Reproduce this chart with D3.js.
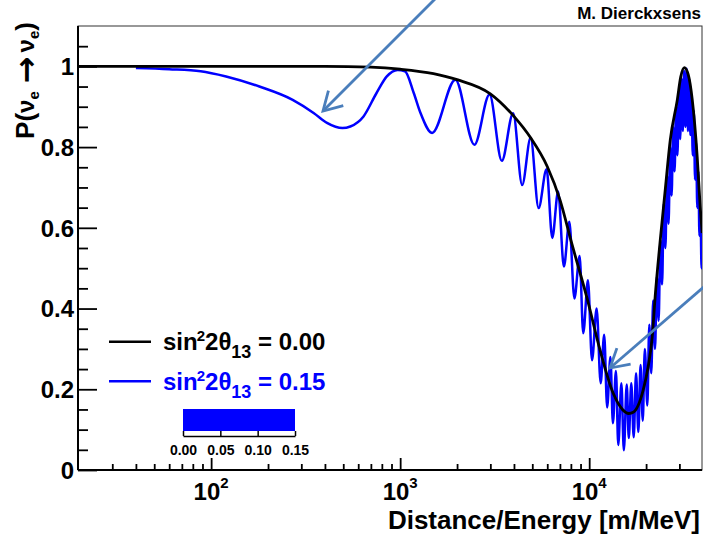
<!DOCTYPE html>
<html><head><meta charset="utf-8">
<script src="https://cdn.jsdelivr.net/npm/d3@7"></script>
<style>
body{margin:0;background:#fff}
svg{display:block}
text{font-family:"Liberation Sans",Arial,Helvetica,sans-serif}
</style>
</head><body>
<script>
// ---- data ----
// black: sin^2 2theta13 = 0.00
const blackLE = [20, 400, 700, 1000, 1500, 2000, 3000, 4000, 4900, 6000, 7000, 8100, 9750, 11400, 13400, 15000, 16200, 17100, 19300, 20500, 21550, 22340, 23770, 25250, 26850, 29250, 30500, 31850, 33400, 35100, 37270, 38660, 39600];
const blackP  = [1.000, 1.000, 0.998, 0.993, 0.982, 0.967, 0.932, 0.876, 0.823, 0.752, 0.670, 0.560, 0.425, 0.298, 0.190, 0.150, 0.140, 0.143, 0.198, 0.255, 0.330, 0.430, 0.570, 0.694, 0.818, 0.917, 0.974, 0.997, 0.980, 0.917, 0.776, 0.652, 0.587];
// blue: sin^2 2theta13 = 0.15
const blueLE = [40, 60, 88, 120, 180, 270, 350, 410, 495, 545, 640, 750, 850, 970, 1060, 1180, 1280, 1475,
  1960, 2470, 2970, 3450, 3960, 4420, 4900, 5400, 5950, 6380, 6850, 7350, 7850, 8350, 8900, 9300, 9850, 10350,
  10950, 11500, 12000, 12450, 12950, 13350, 13850, 14250, 14800, 15250, 15800, 16200, 16700, 17200, 17700, 18200,
  18700, 19200, 19700, 20300, 20800, 21300, 21800, 22300, 22800, 23300, 23800, 24300, 24800, 25300, 25800, 26300,
  26800, 27300, 27800, 28300, 28800, 29300, 29800, 30300, 30800, 31300, 31800, 32300, 32800, 33300, 33800, 34300,
  34800, 35300, 35800, 36300, 36800, 37300, 37800, 38300, 38800, 39300, 39600];
const blueP = [0.996, 0.993, 0.988, 0.975, 0.950, 0.917, 0.884, 0.860, 0.847, 0.851, 0.876, 0.934, 0.975, 0.991, 0.988, 0.934, 0.885, 0.835,
  0.967, 0.806, 0.930, 0.766, 0.884, 0.706, 0.823, 0.649, 0.745, 0.575, 0.690, 0.504, 0.615, 0.425, 0.530, 0.339, 0.470, 0.272,
  0.400, 0.215, 0.335, 0.155, 0.280, 0.116, 0.245, 0.062, 0.215, 0.049, 0.212, 0.079, 0.215, 0.081, 0.240, 0.094,
  0.260, 0.122, 0.300, 0.160, 0.360, 0.240, 0.420, 0.300, 0.480, 0.370, 0.570, 0.460, 0.660, 0.550, 0.730, 0.610,
  0.800, 0.680, 0.850, 0.740, 0.900, 0.780, 0.940, 0.820, 0.970, 0.840, 0.990, 0.850, 0.995, 0.840, 0.970, 0.830,
  0.930, 0.780, 0.890, 0.720, 0.810, 0.650, 0.740, 0.580, 0.640, 0.500, 0.560];

const xMajorTicks = [100, 1000, 10000];
const xMajorExp = ["2", "3", "4"];
const xMinorTicks = [30, 40, 50, 60, 70, 80, 90, 200, 300, 400, 500, 600, 700, 800, 900,
  2000, 3000, 4000, 5000, 6000, 7000, 8000, 9000, 20000, 30000];
const yMajorTicks = [0, 0.2, 0.4, 0.6, 0.8, 1];
const yTickLabels = ["0", "0.2", "0.4", "0.6", "0.8", "1"];
const yMinorTicks = [0.05, 0.1, 0.15, 0.25, 0.3, 0.35, 0.45, 0.5, 0.55, 0.65, 0.7, 0.75, 0.85, 0.9, 0.95, 1.05];
const legendValues = ["0.00", "0.15"];
const legendColors = ["#000000", "#0000ff"];
const barTicks = [0, 0.05, 0.10, 0.15];
const barLabels = ["0.00", "0.05", "0.10", "0.15"];
const barValue = 0.15;
const xTitle = "Distance/Energy [m/MeV]";
const author = "M. Dierckxsens";

// ---- drawing ----
const W = 703, H = 536;
const svg = d3.select("body").append("svg").attr("width", W).attr("height", H);
const L = 78, R = 702, T = 26, B = 470;

const x = d3.scaleLog().domain([20, 40000]).range([79, 703]);
const y = d3.scaleLinear().domain([0, 1.1]).range([470, 26]);

svg.append("defs").append("clipPath").attr("id", "plotclip")
  .append("rect").attr("x", L).attr("y", T).attr("width", R - L).attr("height", B - T);

// frame
svg.append("rect").attr("x", L).attr("y", T).attr("width", R - L).attr("height", B - T)
  .attr("fill", "none").attr("stroke", "#333").attr("stroke-width", 1);

const line = d3.line().x(d => x(d[0])).y(d => y(d[1])).curve(d3.curveMonotoneX);
const g = svg.append("g").attr("clip-path", "url(#plotclip)");
g.append("path").datum(d3.zip(blueLE, blueP)).attr("d", line)
  .attr("fill", "none").attr("stroke", "#0000ff").attr("stroke-width", 2.5).attr("stroke-linejoin", "round");
g.append("path").datum(d3.zip(blackLE, blackP)).attr("d", line)
  .attr("fill", "none").attr("stroke", "#000").attr("stroke-width", 2.8).attr("stroke-linejoin", "round");

// x axis
const xMaj = svg.append("g").attr("transform", `translate(0,${B})`)
  .call(d3.axisBottom(x).tickValues(xMajorTicks).tickSize(-12).tickSizeOuter(0).tickFormat(""));
const xMin = svg.append("g").attr("transform", `translate(0,${B})`)
  .call(d3.axisBottom(x).tickValues(xMinorTicks).tickSize(-6).tickSizeOuter(0).tickFormat(""));
[xMaj, xMin].forEach(a => {
  a.select(".domain").attr("d", `M${L},0H${R}`).attr("stroke", "#000").attr("stroke-width", 2);
  a.selectAll(".tick line").attr("stroke", "#000").attr("stroke-width", 1.8);
});
xMajorTicks.forEach((v, i) => {
  const t = svg.append("text").attr("x", x(v)).attr("y", 500).attr("text-anchor", "middle")
    .attr("font-size", 24).attr("font-weight", "bold").text("10");
  t.append("tspan").attr("dy", -12).attr("font-size", 15).text(xMajorExp[i]);
});
svg.append("text").attr("x", 700).attr("y", 529).attr("text-anchor", "end")
  .attr("font-size", 26).attr("font-weight", "bold").text(xTitle);

// y axis
const yMaj = svg.append("g").attr("transform", `translate(${L},0)`)
  .call(d3.axisLeft(y).tickValues(yMajorTicks).tickSize(-19).tickSizeOuter(0).tickPadding(4)
    .tickFormat((d, i) => yTickLabels[i]));
const yMin = svg.append("g").attr("transform", `translate(${L},0)`)
  .call(d3.axisLeft(y).tickValues(yMinorTicks).tickSize(-10).tickSizeOuter(0).tickFormat(""));
[yMaj, yMin].forEach(a => {
  a.select(".domain").attr("d", `M0,${T}V${B}`).attr("stroke", "#000").attr("stroke-width", 2);
  a.selectAll(".tick line").attr("stroke", "#000").attr("stroke-width", 1.8);
});
yMaj.selectAll(".tick text").attr("font-size", 24).attr("font-weight", "bold").attr("fill", "#000")
  .attr("font-family", "Liberation Sans, Arial, sans-serif").attr("dy", "0.35em");

// y title
const yt = svg.append("text").attr("transform", "translate(34,22) rotate(-90)").attr("text-anchor", "end")
  .attr("font-size", 26).attr("font-weight", "bold");
yt.append("tspan").text("P(");
yt.append("tspan").attr("font-size", 24).text("\u03BD");
yt.append("tspan").attr("dy", 5).attr("font-size", 15).text("e");
yt.append("tspan").attr("dx", 8).attr("dy", -2).attr("font-size", 32).attr("font-family", "DejaVu Sans").text("\u2192");
yt.append("tspan").attr("dx", 4).attr("dy", -3).attr("font-size", 24).text("\u03BD");
yt.append("tspan").attr("dy", 5).attr("font-size", 15).text("e");
yt.append("tspan").attr("dy", -5).text(")");

// author
svg.append("text").attr("x", 701).attr("y", 19).attr("text-anchor", "end")
  .attr("font-size", 17).attr("font-weight", "bold").text(author);

// legend
legendValues.forEach((v, i) => {
  const ly = 341.7 + i * 39.5;
  svg.append("line").attr("x1", 109).attr("x2", 151).attr("y1", ly).attr("y2", ly)
    .attr("stroke", legendColors[i]).attr("stroke-width", 2.5);
  const t = svg.append("text").attr("x", 163).attr("y", ly + 8.5).attr("font-size", 24)
    .attr("font-weight", "bold").attr("fill", legendColors[i]);
  t.append("tspan").text("sin");
  t.append("tspan").attr("dx", -1).attr("dy", -9).attr("font-size", 15).text("2");
  t.append("tspan").attr("dy", 9).text("2\u03B8");
  t.append("tspan").attr("dy", 8).attr("font-size", 18).text("13");
  t.append("tspan").attr("dy", -8).text(" = " + v);
});

// colour bar
const cb = d3.scaleLinear().domain([0, 0.15]).range([183, 295]);
svg.append("rect").attr("x", cb(0)).attr("y", 409).attr("width", cb(barValue) - cb(0)).attr("height", 22)
  .attr("fill", "#0000ff");
const cba = svg.append("g").attr("transform", "translate(0,436)")
  .call(d3.axisBottom(cb).tickValues(barTicks).tickSize(-5).tickSizeOuter(0).tickPadding(9)
    .tickFormat((d, i) => barLabels[i]));
cba.select(".domain").attr("stroke", "#000").attr("stroke-width", 1.5);
cba.selectAll(".tick line").attr("stroke", "#000").attr("stroke-width", 1.5);
cba.selectAll(".tick text").attr("font-size", 14).attr("font-weight", "bold").attr("fill", "#000")
  .attr("font-family", "Liberation Sans, Arial, sans-serif");

// annotation arrows
function arrow(x1, y1, x2, y2) {
  const col = "#4a7ebb";
  svg.append("line").attr("x1", x1).attr("y1", y1).attr("x2", x2).attr("y2", y2)
    .attr("stroke", col).attr("stroke-width", 2.8);
  const a = Math.atan2(y1 - y2, x1 - x2), len = 21, sp = 30 * Math.PI / 180;
  const p = [[x2 + len * Math.cos(a - sp), y2 + len * Math.sin(a - sp)], [x2, y2],
             [x2 + len * Math.cos(a + sp), y2 + len * Math.sin(a + sp)]];
  svg.append("path").attr("d", d3.line()(p)).attr("fill", "none").attr("stroke", col)
    .attr("stroke-width", 2.8).attr("stroke-linejoin", "miter");
}
arrow(436, -2, 323, 111);
arrow(706, 285, 610, 368);
</script>
</body></html>
